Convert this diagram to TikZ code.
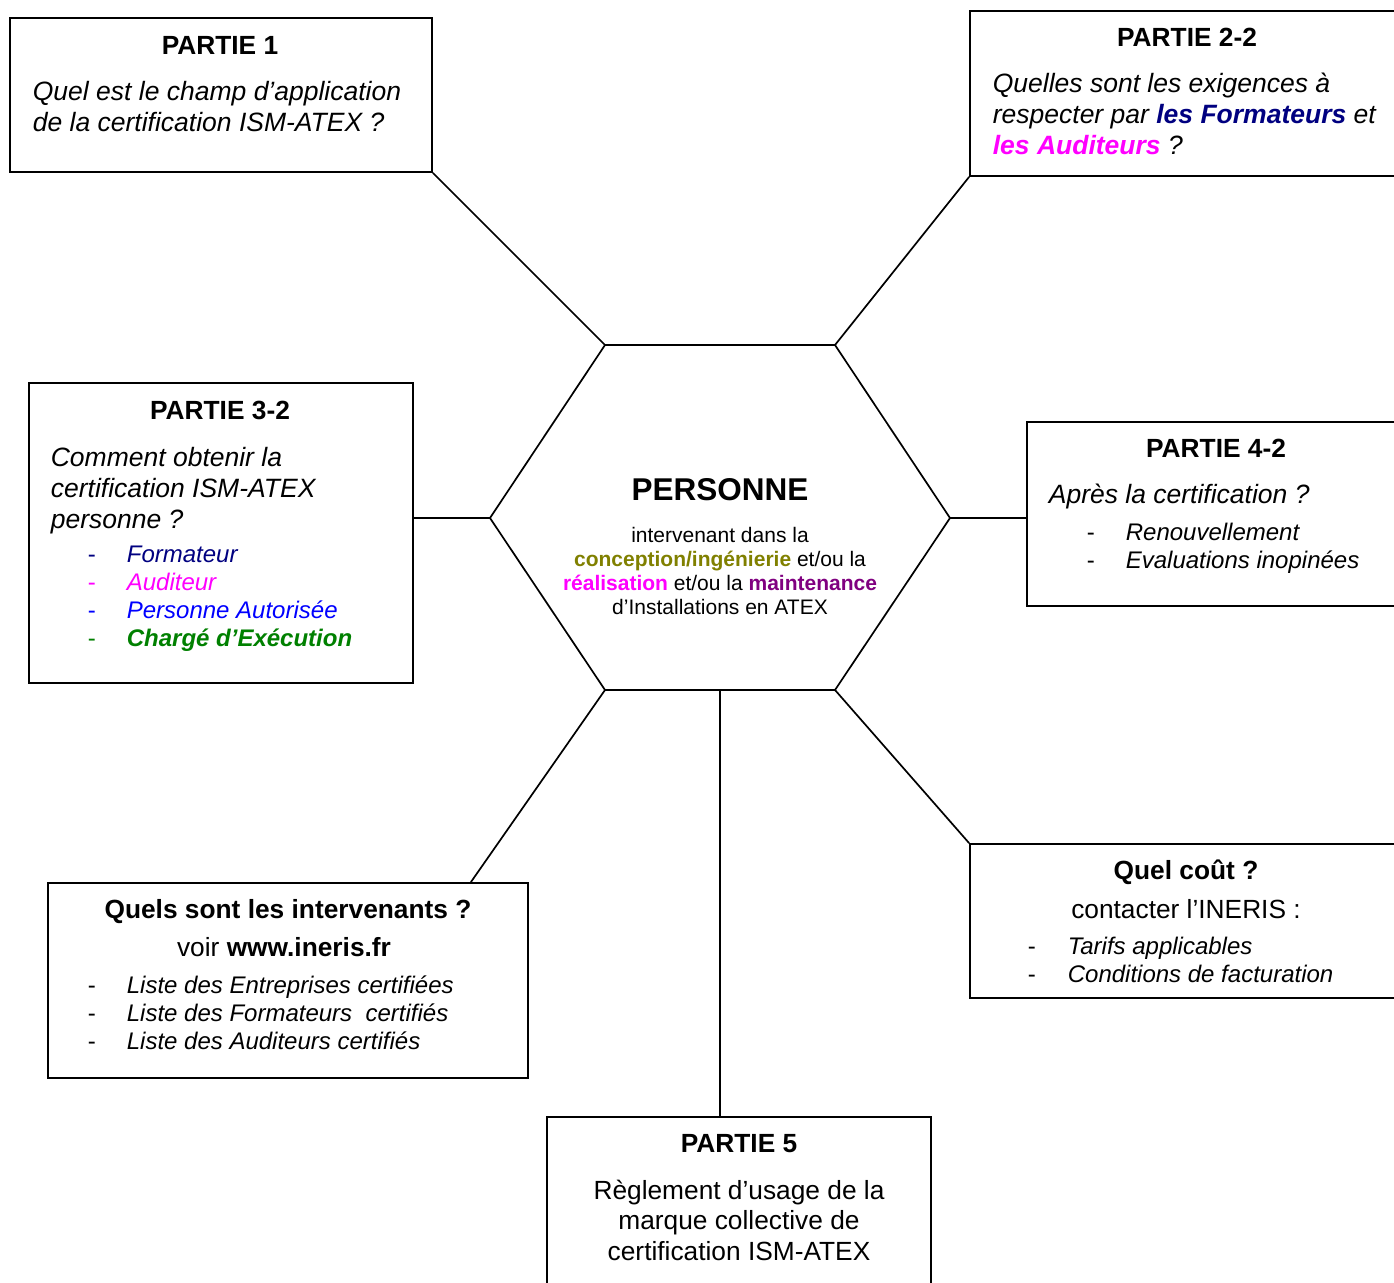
\documentclass[tikz,border=0pt]{standalone}
\usepackage{fontspec}
\setmainfont{Liberation Sans}
\usetikzlibrary{calc}
\newcommand{\taille}[2]{\fontsize{#1}{#2}\selectfont}
\newcommand{\tiret}[1]{\makebox[#1][l]{\upshape -}}
\begin{document}
\begin{tikzpicture}[x=1pt,y=-1pt,line width=1.7pt,
  box/.style={draw,rectangle,inner sep=0pt},
  titre/.style={anchor=base,inner sep=0pt,font=\bfseries\taille{26.3}{31}},
  corps/.style={anchor=north west,inner sep=0pt,align=left,font=\itshape\taille{26.5}{31}},
  liste/.style={anchor=north west,inner sep=0pt,align=left,font=\itshape\taille{24}{28}}]
  \definecolor{navyc}{HTML}{000080}
  \definecolor{magc}{HTML}{FF00FF}
  \definecolor{bluec}{HTML}{0000FF}
  \definecolor{greenc}{HTML}{008000}
  \definecolor{olivec}{HTML}{808000}
  \definecolor{purplec}{HTML}{800080}
  \useasboundingbox (0,0) rectangle (1394,1282);
  % hexagone central
  \coordinate (h1) at (605,345);
  \coordinate (h2) at (835,345);
  \coordinate (h3) at (950,518);
  \coordinate (h4) at (835,690);
  \coordinate (h5) at (605,690);
  \coordinate (h6) at (490,518);
  \coordinate (hbas) at (720,690);
  \draw (h1) -- (h2) -- (h3) -- (h4) -- (h5) -- (h6) -- cycle;
  \node [titre,font=\bfseries\taille{31.5}{38}] (hex) at (720,500) {PERSONNE};
  \node [anchor=north,inner sep=0pt,align=center,font=\taille{21}{24.3}] (hexb) at (720,526)
    {intervenant dans la\\
     {\bfseries\color{olivec}conception/ingénierie} et/ou la\\
     {\bfseries\color{magc}réalisation} et/ou la {\bfseries\color{purplec}maintenance}\\
     d’Installations en ATEX};
  % cadres
  \node [box,minimum width=422,minimum height=154] (p1) at (221,95) {};
  \node [box,minimum width=450,minimum height=165] (p22) at (1195,93.5) {};
  \node [box,minimum width=384,minimum height=300] (p32) at (221,533) {};
  \node [box,minimum width=393,minimum height=184] (p42) at (1223.5,514) {};
  \node [box,minimum width=450,minimum height=154] (cout) at (1195,921) {};
  \node [box,minimum width=480,minimum height=195] (interv) at (288,980.5) {};
  \node [box,minimum width=384,minimum height=183] (p5) at (739,1208.5) {};
  % liaisons
  \draw (p1.south east) -- (h1);
  \draw (p22.south west) -- (h2);
  \draw (h6) -- (h6 -| p32.east);
  \draw (h3) -- (h3 -| p42.west);
  \draw (h5) -- ([xshift=-58pt]interv.north east);
  \draw (h4) -- (cout.north west);
  \draw (hbas) -- (hbas |- p5.north);
  % PARTIE 1
  \node [titre] (p1t) at (220,54) {PARTIE 1};
  \node [corps] (p1c) at (32,80) {Quel est le champ d’application\\de la certification ISM-ATEX ?};
  % PARTIE 2-2
  \node [titre] (p22t) at (1187,46) {PARTIE 2-2};
  \node [corps] (p22c) at (992,72) {Quelles sont les exigences à\\
    respecter par {\bfseries\color{navyc}les Formateurs} et\\
    {\bfseries\color{magc}les Auditeurs} ?};
  % PARTIE 3-2
  \node [titre] (p32t) at (220,419) {PARTIE 3-2};
  \node [corps] (p32c) at (50,446) {Comment obtenir la\\certification ISM-ATEX\\personne ?};
  \node [liste] (p32l) at (87,545) {{\color{navyc}\tiret{39pt}Formateur}\\
    {\color{magc}\tiret{39pt}Auditeur}\\
    {\color{bluec}\tiret{39pt}Personne Autorisée}\\
    {\color{greenc}\tiret{39pt}\bfseries Chargé d’Exécution}};
  % PARTIE 4-2
  \node [titre] (p42t) at (1216,457) {PARTIE 4-2};
  \node [corps,anchor=base west] (p42c) at (1048,503) {Après la certification ?};
  \node [liste] (p42l) at (1086,522) {\tiret{39pt}Renouvellement\\\tiret{39pt}Evaluations inopinées};
  % Quel cout
  \node [titre] (coutt) at (1186,879) {Quel coût ?};
  \node [anchor=base,inner sep=0pt,font=\taille{26.3}{31}] (coutc) at (1186,918) {contacter l’INERIS :};
  \node [liste] (coutl) at (1027,936) {\tiret{40pt}Tarifs applicables\\\tiret{40pt}Conditions de facturation};
  % intervenants
  \node [titre] (intervt) at (288,918) {Quels sont les intervenants ?};
  \node [anchor=base,inner sep=0pt,font=\taille{26.3}{31}] (intervc) at (284,956) {voir \textbf{www.ineris.fr}};
  \node [liste] (intervl) at (87,975) {\tiret{39pt}Liste des Entreprises certifiées\\
    \tiret{39pt}Liste des Formateurs~ certifiés\\
    \tiret{39pt}Liste des Auditeurs certifiés};
  % PARTIE 5
  \node [titre] (p5t) at (739,1152) {PARTIE 5};
  \node [anchor=north,inner sep=0pt,align=center,font=\taille{26.3}{30.5}] (p5c) at (739,1179)
    {Règlement d’usage de la\\marque collective de\\certification ISM-ATEX};
\end{tikzpicture}
\end{document}
